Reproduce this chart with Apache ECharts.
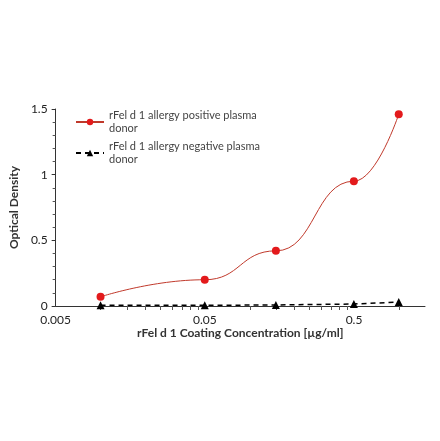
<!DOCTYPE html><html><head><meta charset="utf-8"><script src="https://cdn.jsdelivr.net/npm/echarts@6/dist/echarts.min.js"></script>
<style>html,body{margin:0;background:#fff}#c{width:440px;height:441px}</style></head><body><div id="c"></div><script>
const concentrations=[0.01,0.05,0.15,0.5,1.0];
const positive=[0.07,0.2,0.42,0.95,1.46];
const negative=[0.005,0.005,0.008,0.015,0.03];
const names=['rFel d 1 allergy positive plasma\ndonor','rFel d 1 allergy negative plasma\ndonor'];
const font='Lato, "Open Sans", sans-serif';
const ch=echarts.init(document.getElementById('c'));
ch.setOption({animation:false,
grid:{left:49,right:15,top:109,bottom:135},
legend:{left:70,top:104,orient:'vertical',itemGap:5,itemWidth:28,itemHeight:8,textStyle:{fontFamily:font,fontSize:11,color:'#444',lineHeight:13},
 data:[names[0],names[1]]},
xAxis:{type:'log',logBase:10,min:0.005,max:1.5,interval:1,name:'rFel d 1 Coating Concentration [µg/ml]',nameLocation:'middle',nameGap:21,
 nameTextStyle:{fontFamily:font,fontWeight:'bold',fontSize:12,color:'#333'},
 axisLine:{lineStyle:{color:'#333'}},axisTick:{show:false},minorTick:{show:true,splitNumber:9,length:4,lineStyle:{color:'#555'}},
 axisLabel:{showMaxLabel:false,fontFamily:font,fontSize:12,color:'#222',formatter:v=>String(+v.toPrecision(2))},splitLine:{show:false}},
yAxis:{type:'value',min:0,max:1.5,interval:0.5,name:'Optical Density',nameLocation:'middle',nameGap:30,
 nameTextStyle:{fontFamily:font,fontWeight:'bold',fontSize:12,color:'#333'},
 axisLine:{show:true,lineStyle:{color:'#333'}},axisTick:{show:true,length:4,lineStyle:{color:'#333'}},
 minorTick:{show:true,splitNumber:5,length:3,lineStyle:{color:'#555'}},
 axisLabel:{fontFamily:font,fontSize:12,color:'#222'},splitLine:{show:false}},
series:[
 {name:names[0],type:'line',smooth:0.5,smoothMonotone:'x',data:concentrations.map((c,i)=>[c,positive[i]]),symbol:'circle',symbolSize:8,
  lineStyle:{color:'#c0392b',width:1},itemStyle:{color:'#e31a1c'}},
 {name:names[1],type:'line',data:concentrations.map((c,i)=>[c,negative[i]]),symbol:'triangle',symbolSize:8,
  lineStyle:{color:'#000',width:1.5,type:[5,4]},itemStyle:{color:'#000'}}
]});
</script></body></html>
